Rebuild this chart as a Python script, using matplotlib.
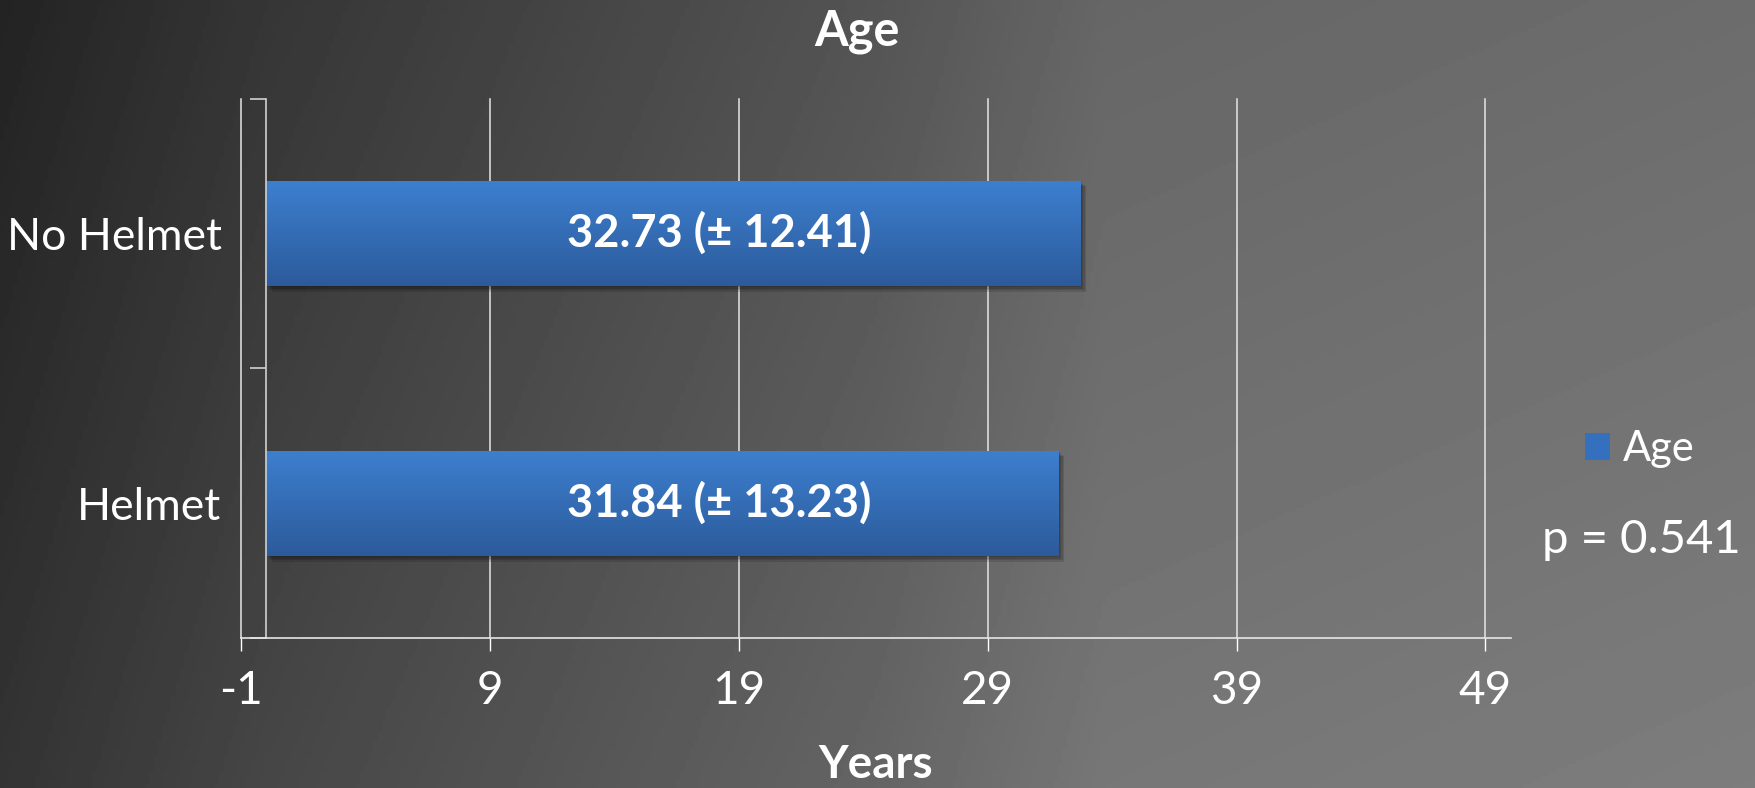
import matplotlib
matplotlib.use("Agg")
import matplotlib.pyplot as plt
import matplotlib.patheffects as pe
from matplotlib.patches import Patch
import numpy as np

plt.rcParams['font.family'] = ['Lato', 'DejaVu Sans']

groups = ['Helmet', 'No Helmet']
mean_age = [31.84, 32.73]
sd_age = [13.23, 12.41]
p_value = 0.541
x_ticks = [-1, 9, 19, 29, 39, 49]

W, H = 17.56, 7.88
fig = plt.figure(figsize=(W, H), dpi=100)

# dark-to-light grey backdrop
bg = fig.add_axes([0, 0, 1, 1], zorder=-10)
bg.set_axis_off()
xs = np.linspace(0, 1, 400)
ys = np.linspace(0, 1, 200)
top_row = np.interp(xs, [0, 0.15, 0.5, 0.63, 1.0], [0.137, 0.21, 0.33, 0.40, 0.424])
shade = top_row[None, :] + 0.065 * ys[:, None]
bg.imshow(shade, cmap='gray', vmin=0, vmax=1, aspect='auto', extent=[0, 1, 1, 0])
bg.set_xlim(0, 1)
bg.set_ylim(1, 0)

ax = fig.add_axes([0.1373, 0.190, 0.7232, 0.685])
ax.patch.set_alpha(0)

pos = np.arange(len(groups))
# soft drop shadow built from a few faint offset copies
shadow = [pe.SimplePatchShadow(offset=(d, -d), shadow_rgbFace='black', alpha=0.12)
          for d in (1, 2, 3, 4)]
bars = ax.barh(pos, mean_age, height=0.39, left=0, color='#3570bf', zorder=2,
               path_effects=shadow + [pe.Normal()])

# vertical shading inside each bar: lighter on top, darker at the bottom
grad = np.linspace(0, 1, 64)[:, None]
blue_cmap = matplotlib.colors.LinearSegmentedColormap.from_list('bar', ['#3d7fcf', '#2c5b9b'])
for b in bars:
    x0, y0 = b.get_x(), b.get_y()
    im = ax.imshow(grad, cmap=blue_cmap, aspect='auto', zorder=2.1, origin='upper',
                   extent=[x0, x0 + b.get_width(), y0, y0 + b.get_height()])
    im.set_clip_path(b)

label_x = 18.2
for p, m, s in zip(pos, mean_age, sd_age):
    ax.text(label_x, p, f'{m:.2f} (± {s:.2f})', ha='center', va='center',
            color='white', fontsize=32.5, fontweight='bold', zorder=3)

ax.set_xlim(-1, 50.03)
ax.set_ylim(-0.5, 1.5)
ax.set_xticks(x_ticks)
ax.set_xticklabels([str(t) for t in x_ticks])
ax.tick_params(axis='x', colors='white', labelsize=33, length=9, width=1, pad=14)

ax.set_yticks([-0.5] + list(pos + 0.5))
ax.set_yticklabels([''] * (len(pos) + 1))
ax.set_yticks(pos, minor=True)
ax.set_yticklabels(groups, minor=True)
ax.tick_params(axis='y', which='major', colors='#d0d0d0', length=11.5, width=1.2, direction='out')
ax.tick_params(axis='y', which='minor', length=0, pad=32, labelsize=32, labelcolor='white')

ax.grid(axis='x', color='#e6e6e6', linewidth=1.1)
ax.set_axisbelow(True)
for gl in ax.get_xgridlines():
    gl.set_clip_on(False)

ax.spines['left'].set_position(('data', 0))
ax.spines['left'].set_color('#d0d0d0')
ax.spines['left'].set_linewidth(1.2)
ax.spines['bottom'].set_color('#e6e6e6')
ax.spines['bottom'].set_linewidth(1.2)
ax.spines['top'].set_visible(False)
ax.spines['right'].set_visible(False)

ax.set_xlabel('Years', color='white', fontsize=33, fontweight='bold')
ax.xaxis.set_label_coords(0.5, -0.235)
ax.xaxis.label.set_va('center')

fig.text(0.488, 0.960, 'Age', ha='center', va='center', color='white',
         fontsize=35, fontweight='bold')

fig.legend(handles=[Patch(facecolor='#3570bf')], labels=['Age'], loc='center left',
           bbox_to_anchor=(0.9026, 0.430), frameon=False, fontsize=30, labelcolor='white',
           handlelength=0.6, handleheight=0.6, handletextpad=0.32, borderpad=0, borderaxespad=0)

fig.text(0.9345, 0.315, f'p = {p_value}', ha='center', va='center', color='white', fontsize=34)

fig.savefig('out.png', dpi=100)
